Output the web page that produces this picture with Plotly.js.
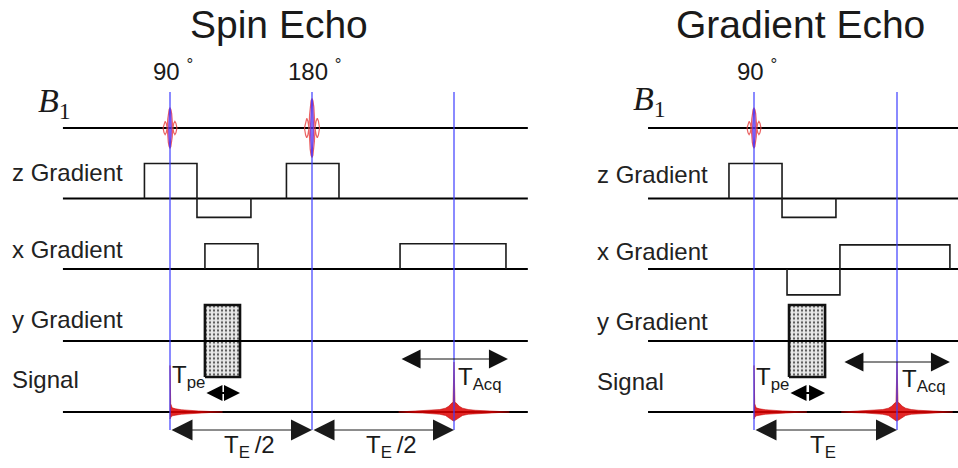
<!DOCTYPE html>
<html><head><meta charset="utf-8">
<script src="https://cdn.plot.ly/plotly-3.0.1.min.js"></script>
<style>html,body{margin:0;padding:0;background:#fff}#chart{width:958px;height:468px}</style>
</head><body><div id="chart"></div>
<script>
// ================= DATA (time in ms, amplitude in relative units) =================
const panelTitles = ['Spin Echo', 'Gradient Echo'];
const rowLabels = ['z Gradient', 'x Gradient', 'y Gradient', 'Signal'];

// RF pulses
const sePulseT = [0, 10];
const sePulseAmp = [0.57, 0.84];
const sePulseHalfWidth = [0.49, 0.53];
const sePulseLabel = ['90', '180'];
const gePulseT = [0];
const gePulseAmp = [0.57];
const gePulseHalfWidth = [0.49];
const gePulseLabel = ['90'];

// normalised sinc-like RF envelope
const rfShapeT = [-1, -0.85, -0.7, -0.55, -0.4, -0.32, -0.24, -0.12, 0, 0.12, 0.24, 0.32, 0.4, 0.55, 0.7, 0.85, 1];
const rfShapeA = [0, 0.24, 0.33, 0.24, 0, 0.45, 0.72, 0.93, 1, 0.93, 0.72, 0.45, 0, 0.24, 0.33, 0.24, 0];

// sequence time span (baselines)
const seSpan = [-7.54, 25.2];
const geSpan = [-7.41, 14.4];

// gradient lobes
const seZStart = [-1.8, 1.9, 8.2];
const seZEnd   = [1.9, 5.7, 11.9];
const seZAmp   = [1, -0.54, 1];
const seXStart = [2.46, 16.2];
const seXEnd   = [6.2, 23.66];
const seXAmp   = [0.72, 0.72];
const seYStart = [2.46];
const seYEnd   = [4.93];
const seYAmp   = [1.03];

const geZStart = [-1.75, 1.96];
const geZEnd   = [1.96, 5.73];
const geZAmp   = [1, -0.54];
const geXStart = [2.31, 6.01];
const geXEnd   = [6.01, 13.7];
const geXAmp   = [-0.74, 0.69];
const geYStart = [2.45];
const geYEnd   = [4.97];
const geYAmp   = [1.03];

// echo / timing
const seEchoT = 20;
const geEchoT = 10;
const seMarkerT = [0, 10, 20];
const geMarkerT = [0, 10];
const seAcq = [16.2, 23.8];
const geAcq = [6.22, 13.7];
const seTE = [[0, 10], [10, 20]];
const seTELabel = ['T<sub>E</sub>\u2009/2', 'T<sub>E</sub>\u2009/2'];
const geTE = [[0, 10]];
const geTELabel = ['T<sub>E</sub>'];

// signal envelopes (FID after 90°, and echo)
const fidT  = [0, 0.05, 0.15, 0.4, 0.8, 1.3, 2.0, 2.8, 3.7];
const fidUp = [1.33, 0.24, 0.12, 0.09, 0.065, 0.045, 0.03, 0.015, 0];
const fidLo = [-0.2, -0.16, -0.11, -0.09, -0.065, -0.045, -0.03, -0.015, 0];
const echoT  = [0, 0.07, 0.2, 0.35, 0.6, 1.0, 1.5, 2.2, 3.0, 3.9];
const echoUp = [1.43, 0.28, 0.24, 0.17, 0.11, 0.07, 0.05, 0.035, 0.02, 0];
const echoLo = [-0.26, -0.25, -0.21, -0.16, -0.1, -0.065, -0.045, -0.03, -0.018, 0];

// ================= LAYOUT CONSTANTS =================
const W = 958, H = 468;
const rowBasePx = [128, 198.5, 269, 341, 412];
const unitPx = 35, rowHalf = 1.5;
const py = p => (H - p) / H;
const BLUE = '#3c3cff', RED = 'rgba(222,0,0,0.85)', INK = '#1a1a1a';
const SANS = 'Liberation Sans, Arial, sans-serif';

const layout = {
  width: W, height: H, margin: {l: 0, r: 0, t: 0, b: 0},
  paper_bgcolor: '#fff', plot_bgcolor: 'rgba(0,0,0,0)', showlegend: false,
  xaxis:  {domain: [0, 540 / W], range: [-170 / 14.2, 370 / 14.2], visible: false, fixedrange: true},
  xaxis2: {domain: [580 / W, 1], range: [-174 / 14.3, 204 / 14.3], visible: false, fixedrange: true},
  shapes: [], annotations: []
};
rowBasePx.forEach((b, i) => {
  const h = rowHalf * unitPx;
  layout['yaxis' + (i ? i + 1 : '')] = {domain: [(H - b - h) / H, (H - b + h) / H], range: [-rowHalf, rowHalf],
    visible: false, anchor: 'x', fixedrange: true};
});

const traces = [];
function add(xa, row, x, y, opt) {
  traces.push(Object.assign({type: 'scatter', mode: 'lines', x, y, xaxis: xa, yaxis: 'y' + (row ? row + 1 : ''),
    hoverinfo: 'skip', line: {color: INK, width: 1.6}}, opt || {}));
}
function steps(s, e, a) {
  const X = [], Y = [];
  for (let i = 0; i < s.length; i++) {
    X.push(s[i], s[i], e[i], e[i]); Y.push(0, a[i], a[i], 0);
    if (i < s.length - 1 && e[i] !== s[i + 1]) { X.push(null); Y.push(null); }
  }
  return {X, Y};
}

const panels = [
  {xa: 'x', title: panelTitles[0], titleX: 279, labelX: 10, b1X: 36, span: seSpan,
   pT: sePulseT, pA: sePulseAmp, pW: sePulseHalfWidth, pL: sePulseLabel,
   z: [seZStart, seZEnd, seZAmp], g: [seXStart, seXEnd, seXAmp], ph: [seYStart, seYEnd, seYAmp],
   echo: seEchoT, marks: seMarkerT, acq: seAcq, acqY: 359, te: seTE, teL: seTELabel, dy: 0,
   tacqT: 20.14},
  {xa: 'x2', title: panelTitles[1], titleX: 800, labelX: 595, b1X: 631, span: geSpan,
   pT: gePulseT, pA: gePulseAmp, pW: gePulseHalfWidth, pL: gePulseLabel,
   z: [geZStart, geZEnd, geZAmp], g: [geXStart, geXEnd, geXAmp], ph: [geYStart, geYEnd, geYAmp],
   echo: geEchoT, marks: geMarkerT, acq: geAcq, acqY: 362, te: geTE, teL: geTELabel, dy: 2,
   tacqT: 10.2}
];

function arrow(xref, t1, t2, ypx, w, size, color) {
  return {xref: xref, yref: 'paper', x: t2, y: py(ypx), axref: xref, ax: t1, ayref: 'pixel', ay: 0,
    text: '', showarrow: true, arrowhead: 2, startarrowhead: 2, arrowside: 'end+start',
    arrowsize: size, startarrowsize: size, arrowwidth: w, arrowcolor: color, standoff: 0, startstandoff: 0};
}
function txt(xref, x, yref, y, text, size, xanchor, yanchor, family, color) {
  return {xref, x, yref, y, text, showarrow: false, xanchor, yanchor,
    font: {family: family || SANS, size, color: color || INK}};
}

panels.forEach(P => {
  const xa = P.xa;
  // phase-encode table (stippled) first so baseline is on top
  const [ps, pe, pa] = P.ph;
  add(xa, 3, [ps[0], ps[0], pe[0], pe[0], ps[0]], [-pa[0], pa[0], pa[0], -pa[0], -pa[0]],
    {fill: 'toself', fillcolor: '#e4e4e4', line: {color: '#111', width: 2.6},
     fillpattern: {shape: '.', bgcolor: '#e8e8e8', fgcolor: '#555', size: 4, solidity: 0.25}});
  // baselines
  for (let r = 0; r < 5; r++) add(xa, r, [P.span[0], P.span[1]], [0, 0], {line: {color: '#000', width: 2.2}});
  // gradients
  let s = steps(...P.z); add(xa, 1, s.X, s.Y);
  s = steps(...P.g); add(xa, 2, s.X, s.Y);
  // RF pulses
  P.pT.forEach((t0, i) => {
    const n = rfShapeT.length;
    const X = [], Y = [];
    for (let k = 0; k < n; k++) { X.push(t0 + rfShapeT[k] * P.pW[i]); Y.push(rfShapeA[k] * P.pA[i]); }
    for (let k = n - 1; k >= 0; k--) { X.push(t0 + rfShapeT[k] * P.pW[i]); Y.push(-rfShapeA[k] * P.pA[i]); }
    add(xa, 0, X, Y, {line: {color: 'rgba(230,70,70,0.85)', width: 1.2}});
    const PX = [], PY = [];
    for (let k = 0; k < n; k++) if (Math.abs(rfShapeT[k]) <= 0.4) { PX.push(t0 + rfShapeT[k] * P.pW[i] * 0.5); PY.push(rfShapeA[k] * P.pA[i] * 0.97); }
    for (let k = n - 1; k >= 0; k--) if (Math.abs(rfShapeT[k]) <= 0.4) { PX.push(t0 + rfShapeT[k] * P.pW[i] * 0.5); PY.push(-rfShapeA[k] * P.pA[i] * 0.97); }
    add(xa, 0, PX, PY, {fill: 'toself', fillcolor: 'rgba(170,120,220,0.2)', line: {color: 'rgba(140,50,200,0.9)', width: 1.3}});
    layout.annotations.push(txt(xa, t0 + 0.2, 'paper', py(87), P.pL[i] + ' <sup>°</sup>', 24, 'center', 'bottom'));
  });
  // FID
  {
    const X = [0], Y = [fidLo[0]];
    fidT.forEach((t, k) => { X.push(t); Y.push(fidUp[k]); });
    for (let k = fidT.length - 1; k >= 0; k--) { X.push(fidT[k]); Y.push(fidLo[k]); }
    add(xa, 4, X, Y, {fill: 'toself', fillcolor: RED, line: {color: 'rgba(200,0,0,0.9)', width: 0.6}});
  }
  // echo
  {
    const X = [], Y = [];
    for (let k = echoT.length - 1; k > 0; k--) { X.push(P.echo - echoT[k]); Y.push(echoUp[k]); }
    for (let k = 0; k < echoT.length; k++) { X.push(P.echo + echoT[k]); Y.push(echoUp[k]); }
    for (let k = echoT.length - 1; k > 0; k--) { X.push(P.echo + echoT[k]); Y.push(echoLo[k]); }
    for (let k = 0; k < echoT.length; k++) { X.push(P.echo - echoT[k]); Y.push(echoLo[k]); }
    add(xa, 4, X, Y, {fill: 'toself', fillcolor: RED, line: {color: 'rgba(190,0,0,0.9)', width: 0.6}});
  }
  // blue timing markers
  P.marks.forEach(t => layout.shapes.push({type: 'line', xref: xa, yref: 'paper', x0: t, x1: t,
    y0: py(430), y1: py(92), line: {color: BLUE, width: 1.2}}));
  // arrows
  P.te.forEach(([a, b]) => layout.annotations.push(arrow(xa, a, b, 430, 1, 4.2, '#1a1a1a')));
  layout.annotations.push(arrow(xa, P.acq[0], P.acq[1], P.acqY, 1, 3.8, '#111'));
  layout.annotations.push(arrow(xa, ps[0], pe[0], 393, 2, 1.6, '#000'));
  // T labels
  P.te.forEach(([a, b], i) => layout.annotations.push(txt(xa, (a + b) / 2 + (P.xa === 'x' ? 0.6 : -0.2), 'paper', py(429), P.teL[i], 24, 'center', 'top')));
  layout.annotations.push(txt(xa, 0, 'paper', py(359 + P.dy), 'T<sub>pe</sub>', 24, 'left', 'top'));
  layout.annotations.push(txt(xa, P.tacqT, 'paper', py(361 + P.dy), 'T<sub>Acq</sub>', 24, 'left', 'top'));
  // titles and row labels
  layout.annotations.push(txt('paper', P.titleX / W, 'paper', py(48), P.title, 39, 'center', 'bottom'));
  layout.annotations.push(txt('paper', P.b1X / W, 'paper', py(80 - P.dy), '<i>B</i><sub>1</sub>', 34, 'left', 'top', 'Liberation Serif, Times New Roman, serif'));
  const labBottom = [188, 265, 335, 395];
  rowLabels.forEach((l, i) => layout.annotations.push(txt('paper', P.labelX / W, 'paper', py(labBottom[i] + P.dy), l, 24, 'left', 'bottom', SANS, '#222')));
});

Plotly.newPlot('chart', traces, layout, {staticPlot: true, displayModeBar: false});
</script></body></html>
